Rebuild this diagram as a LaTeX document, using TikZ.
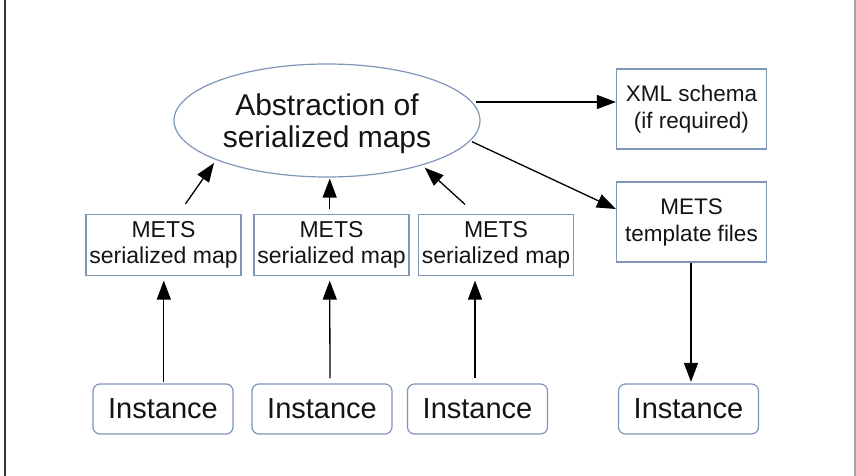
\documentclass[tikz,border=0pt]{standalone}
\usepackage{fontspec}
\setmainfont{Liberation Sans}
\usetikzlibrary{shapes.geometric,arrows.meta,calc}
\definecolor{bordc}{RGB}{128,150,185}
\definecolor{txtc}{RGB}{20,20,20}
\tikzset{
  sqbox/.style={draw=bordc,line width=1.2pt,fill=white,inner sep=0pt,align=center,text=txtc,
    minimum width=155pt,minimum height=61pt,font=\fontsize{23}{26}\selectfont},
  sidebox/.style={sqbox,minimum width=150pt,minimum height=80pt,font=\fontsize{22.5}{27}\selectfont},
  instbox/.style={draw=bordc,line width=1.2pt,rounded corners=7pt,fill=white,inner sep=0pt,text=txtc,
    minimum width=140pt,minimum height=50pt,font=\fontsize{29}{32}\selectfont},
  ellbox/.style={ellipse,draw=bordc,line width=1.2pt,inner sep=0pt,
    minimum width=306pt,minimum height=113pt},
  elltext/.style={align=center,text=txtc,inner sep=0pt,font=\fontsize{30}{32}\selectfont},
  arr/.style={-{Triangle[length=19pt,width=14pt]},line width=1.3pt,black},
}
\begin{document}
\begin{tikzpicture}[x=1pt,y=-1pt]
\useasboundingbox (0,0) rectangle (856,476);
\fill[white] (0,0) rectangle (856,476);
\draw[line width=2pt,black!80] (4.5,0) coordinate (la) -- (4.5,476) coordinate (lb);
\draw[line width=2pt,black!35] (855,0) coordinate (ra) -- (855,476) coordinate (rb);

\node[ellbox] (ell) at (327,120.5) {};
\node[elltext] (ellt) at ($(ell.center)+(0,3.5)$) {Abstraction of\\serialized maps};
\node[sidebox] (xml) at (691.5,109) {XML schema\\(if required)};
\node[sidebox] (tpl) at (691.5,222) {METS\\template files};
\node[sqbox] (m1) at (163.5,245) {METS\\serialized map};
\node[sqbox] (m2) at (331.5,245) {METS\\serialized map};
\node[sqbox] (m3) at (496,245) {METS\\serialized map};
\node[instbox] (i1) at (163,409) {Instance};
\node[instbox] (i2) at (322,409) {Instance};
\node[instbox] (i3) at (477.5,409) {Instance};
\node[instbox] (i4) at (688.5,409) {Instance};

\draw[arr] ($(i1.north)+(0.8,-1)$) -- ($(m1.south)+(0.3,4.5)$);
\draw[arr] ($(i2.north)+(8,-5)$) -- ($(m2.south)+(-1.8,4.5)$);
\draw[arr] ($(i3.north)+(-2.5,-5)$) -- ($(m3.south)+(-21,4.5)$);
\draw[arr] ($(m1.north)+(22,-10)$) -- ($(ell.center)+(-113,42.5)$);
\draw[arr] ($(m2.north)+(-1.8,-4.5)$) -- ($(ell.south)+(2.7,1)$);
\draw[arr] ($(m3.north)+(-31,-9.5)$) -- ($(ell.center)+(97.7,47.2)$);
\draw[arr] ($(ell.center)+(149,-18.5)$) -- ($(xml.west)+(0,-7)$);
\draw[arr] ($(ell.center)+(145,21.2)$) -- ($(tpl.west)+(0,-13)$);
\draw[arr] ($(tpl.south)+(-0.5,0)$) -- ($(i4.north)+(2.5,-1.5)$);
\end{tikzpicture}
\end{document}
